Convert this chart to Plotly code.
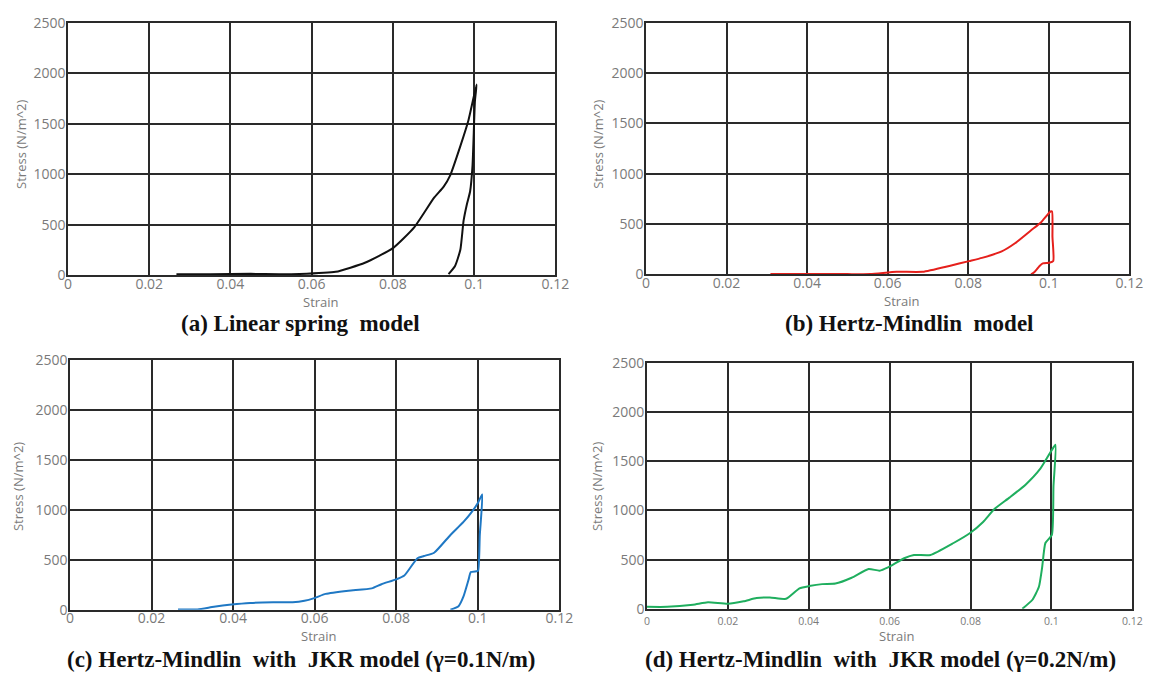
import plotly.graph_objects as go

# ---------------- data ----------------
strain_a = [0.0267, 0.035, 0.045, 0.052, 0.057, 0.0659, 0.0731, 0.080, 0.0853, 0.0901, 0.0925,
            0.0941, 0.0966, 0.0986, 0.1006, 0.1002, 0.0996, 0.099, 0.0982, 0.0974, 0.0966,
            0.0953, 0.0937]
stress_a = [10, 12, 15, 10, 13, 35, 125, 270, 478, 766, 878,
            990, 1279, 1535, 1888, 1727, 1086, 830, 702, 541, 253,
            93, 13]

strain_b = [0.0309, 0.040, 0.050, 0.0557, 0.0622, 0.0687, 0.0753, 0.0802, 0.0834, 0.0883, 0.0916,
            0.0956, 0.0981, 0.1004, 0.1008, 0.1009, 0.1011, 0.1001, 0.0985, 0.0977, 0.0965, 0.0956]
stress_b = [5, 4, 3, 3, 26, 26, 84, 132, 164, 228, 309,
            438, 518, 625, 625, 374, 133, 116, 110, 84, 26, 0]

strain_c = [0.0265, 0.0313, 0.0353, 0.0396, 0.0442, 0.0498, 0.0546, 0.0575, 0.0599, 0.0627,
            0.0683, 0.074, 0.0764, 0.080, 0.082, 0.0852, 0.0868, 0.0893, 0.0933, 0.0965,
            0.0985, 0.1001, 0.1011, 0.1005, 0.1001, 0.0997, 0.0983, 0.0977, 0.0965, 0.0953, 0.0933]
stress_c = [3, 3, 30, 52, 68, 75, 75, 90, 117, 159,
            191, 214, 256, 305, 343, 516, 538, 571, 749, 879,
            977, 1074, 1155, 749, 392, 386, 377, 295, 133, 36, 0]

strain_d = [0.0, 0.005, 0.0114, 0.0151, 0.020, 0.0239, 0.0271, 0.0304, 0.0344, 0.0377, 0.0401,
            0.0433, 0.0466, 0.0506, 0.0548, 0.0575, 0.0596, 0.0636, 0.066, 0.0701, 0.0758,
            0.0798, 0.0831, 0.0859, 0.0896, 0.0936, 0.0973, 0.100, 0.101, 0.1005, 0.1001,
            0.0985, 0.0977, 0.0969, 0.0953, 0.0928]
stress_d = [20, 20, 42, 66, 52, 77, 109, 116, 102, 208, 231,
            251, 257, 316, 405, 388, 421, 514, 547, 547, 669,
            768, 883, 1014, 1130, 1262, 1427, 1608, 1667, 1245, 751,
            669, 421, 224, 92, 0]

x_ticks = [0, 0.02, 0.04, 0.06, 0.08, 0.1, 0.12]
x_tick_text = ["0", "0.02", "0.04", "0.06", "0.08", "0.1", "0.12"]
y_ticks = [0, 500, 1000, 1500, 2000, 2500]
y_tick_text = ["0", "500", "1000", "1500", "2000", "2500"]

captions = ["(a) Linear spring\u00a0 model",
            "(b) Hertz-Mindlin\u00a0 model",
            "(c) Hertz-Mindlin\u00a0 with\u00a0 JKR model (\u03b3=0.1N/m)",
            "(d) Hertz-Mindlin\u00a0 with\u00a0 JKR model (\u03b3=0.2N/m)"]

# ---------------- layout geometry ----------------
W, H = 1169, 681
# plot rectangles in pixels: (left, right, top, bottom)
rects = [(65, 560, 13, 273), (652, 1143, 13, 272), (67, 564, 360, 617), (653, 1146, 363, 616)]
colors = ["#111111", "#e5201c", "#1f78c4", "#1fae5e"]
series = [(strain_a, stress_a), (strain_b, stress_b), (strain_c, stress_c), (strain_d, stress_d)]
caption_pos = [(301, 323), (920, 323), (302, 668), (890, 668)]
strain_lbl_pos = [(322, 300), (912, 299), (320, 644), (907, 644)]
stress_lbl_pos = [(17, 138), (603, 138), (15, 490), (603, 490)]
xtick_sizes = [14, 14, 14, 10.5]
xtick_standoff = [-5, -5, -5, 2]

grid_col = "#2a2a2a"
tick_col = "#7a7a7a"

fig = go.Figure()
annotations = []
for i, ((xs, ys), col, (l, r, t, b)) in enumerate(zip(series, colors, rects)):
    n = "" if i == 0 else str(i + 1)
    fig.add_trace(go.Scatter(x=xs, y=ys, mode="lines", xaxis="x" + n, yaxis="y" + n,
                             line=dict(color=col, width=2, shape="spline", smoothing=0.5),
                             showlegend=False, hoverinfo="x+y"))
    xa = dict(domain=[l / W, r / W], anchor="y" + n, range=[0, 0.12],
              tickvals=x_ticks, ticktext=x_tick_text,
              showgrid=True, gridcolor=grid_col, gridwidth=1.5,
              showline=True, linecolor=grid_col, linewidth=1.5, mirror=True,
              zeroline=False, ticks="", ticklen=0, ticklabelstandoff=xtick_standoff[i],
              tickfont=dict(family="Open Sans", size=xtick_sizes[i], color=tick_col))
    ya = dict(domain=[1 - b / H, 1 - t / H], anchor="x" + n, range=[0, 2500],
              tickvals=y_ticks, ticktext=y_tick_text,
              showgrid=True, gridcolor=grid_col, gridwidth=1.5,
              showline=True, linecolor=grid_col, linewidth=1.5, mirror=True,
              zeroline=False, ticks="", ticklen=0, ticklabelstandoff=-2,
              tickfont=dict(family="Open Sans", size=14, color=tick_col))
    fig.update_layout({"xaxis" + n: xa, "yaxis" + n: ya})

    cx, cy = caption_pos[i]
    annotations.append(dict(x=cx / W, y=1 - cy / H, xref="paper", yref="paper",
                            text="<b>" + captions[i] + "</b>", showarrow=False,
                            xanchor="center", yanchor="middle",
                            font=dict(family="Liberation Serif", size=23, color="#111111")))
    sx, sy = strain_lbl_pos[i]
    annotations.append(dict(x=sx / W, y=1 - sy / H, xref="paper", yref="paper",
                            text="Strain", showarrow=False, xanchor="center", yanchor="middle",
                            font=dict(family="Open Sans", size=13, color=tick_col)))
    tx, ty = stress_lbl_pos[i]
    annotations.append(dict(x=tx / W, y=1 - ty / H, xref="paper", yref="paper",
                            text="Stress (N/m^2)", showarrow=False, textangle=-90,
                            xanchor="center", yanchor="middle",
                            font=dict(family="Open Sans", size=13, color=tick_col)))

fig.update_layout(width=W, height=H, margin=dict(l=0, r=0, t=0, b=0),
                  paper_bgcolor="white", plot_bgcolor="white",
                  annotations=annotations)

fig.write_html("out.html")
